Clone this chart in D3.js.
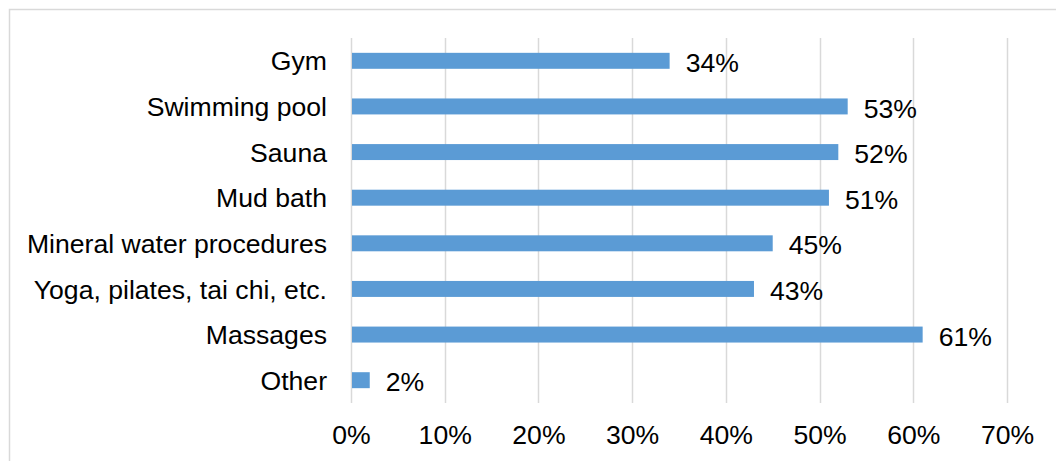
<!DOCTYPE html>
<html>
<head>
<meta charset="utf-8">
<script src="https://cdn.jsdelivr.net/npm/d3@7"></script>
<style>
  html, body { margin: 0; padding: 0; background: #fff; }
  svg { display: block; }
  text { font-family: "Liberation Sans", Arial, sans-serif; fill: #000; }
</style>
</head>
<body>
<svg id="chart" width="1056" height="461"></svg>
<script>
// Share of respondents interested in each facility
const categories = ["Gym", "Swimming pool", "Sauna", "Mud bath", "Mineral water procedures",
                    "Yoga, pilates, tai chi, etc.", "Massages", "Other"];
const values = [34, 53, 52, 51, 45, 43, 61, 2];
const tickValues = [0, 10, 20, 30, 40, 50, 60, 70];

const svg = d3.select("#chart");
const W = 1056, H = 461;
const margin = { left: 351, right: 49, top: 38, bottom: 58 };
const fontSize = 26.6;

// Outer chart frame (top and left edges visible)
svg.append("path")
  .attr("d", `M9.5,${H} L9.5,9.5 L${W},9.5`)
  .attr("fill", "none")
  .attr("stroke", "#d9d9d9")
  .attr("stroke-width", 1.5);

const x = d3.scaleLinear().domain([0, 70]).range([margin.left, W - margin.right]);
const y = d3.scaleBand().domain(categories).range([margin.top, H - margin.bottom]).paddingInner(0.65).paddingOuter(0.325);

// Vertical gridlines
svg.append("g")
  .selectAll("line")
  .data(tickValues)
  .join("line")
  .attr("x1", d => Math.round(x(d)) + 0.5)
  .attr("x2", d => Math.round(x(d)) + 0.5)
  .attr("y1", margin.top)
  .attr("y2", H - margin.bottom)
  .attr("stroke", "#d9d9d9")
  .attr("stroke-width", 1.5);

// X axis tick labels
const xAxis = d3.axisBottom(x).tickValues(tickValues).tickFormat(d => d + "%").tickSize(0).tickPadding(0);
const gx = svg.append("g")
  .attr("transform", `translate(0,${H - margin.bottom})`)
  .call(xAxis);
gx.select(".domain").remove();
gx.selectAll("text")
  .attr("font-size", fontSize)
  .attr("font-family", "Liberation Sans, Arial, sans-serif")
  .attr("fill", "#000")
  .attr("y", 41)
  .attr("dy", 0);

// Category labels
const yAxis = d3.axisLeft(y).tickSize(0).tickPadding(24);
const gy = svg.append("g")
  .attr("transform", `translate(${margin.left},0)`)
  .call(yAxis);
gy.select(".domain").remove();
gy.selectAll("text")
  .attr("font-size", fontSize)
  .attr("font-family", "Liberation Sans, Arial, sans-serif")
  .attr("fill", "#000")
  .attr("dy", "0.36em");

// Bars
svg.append("g")
  .selectAll("rect")
  .data(values)
  .join("rect")
  .attr("x", x(0) + 1)
  .attr("y", (d, i) => y(categories[i]))
  .attr("width", d => x(d) - x(0) - 1)
  .attr("height", y.bandwidth())
  .attr("fill", "#5b9bd5");

// Value labels
svg.append("g")
  .selectAll("text")
  .data(values)
  .join("text")
  .attr("x", d => x(d) + 16)
  .attr("y", (d, i) => y(categories[i]) + y.bandwidth() / 2)
  .attr("dy", "0.42em")
  .attr("font-size", fontSize)
  .text(d => d + "%");
</script>
</body>
</html>
